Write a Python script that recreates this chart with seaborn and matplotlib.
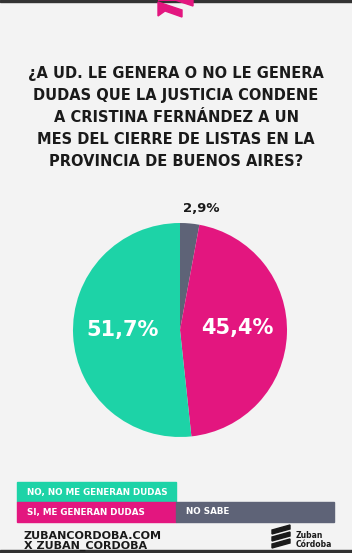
import matplotlib
matplotlib.use("Agg")
import matplotlib.pyplot as plt
import seaborn as sns
from matplotlib.patches import Rectangle, Polygon

sns.set_theme(style="white")
plt.rcParams['font.family'] = ['DejaVu Sans']

categories = ["NO SABE", "SI, ME GENERAN DUDAS", "NO, NO ME GENERAN DUDAS"]
values = [2.9, 45.4, 51.7]
labels = ["2,9%", "45,4%", "51,7%"]
colors = ["#5e6377", "#e3167f", "#1dd3a7"]

W, H = 352, 553
fig = plt.figure(figsize=(W / 100, H / 100), dpi=100)
fig.patch.set_facecolor("#f3f3f3")

def fx(x):
    return x / W

def fy(y):
    return 1 - y / H

# top and bottom dark lines
fig.add_artist(Rectangle((0, fy(2)), 1, 2 / H, transform=fig.transFigure, color="#333333"))
fig.add_artist(Rectangle((0, 0), 1, 3 / H, transform=fig.transFigure, color="#333333"))
# top pink logo shape
fig.add_artist(Polygon([(fx(158), fy(0)), (fx(193), fy(0)), (fx(193), fy(6)), (fx(175), fy(0))],
                       transform=fig.transFigure, color="#e3167f"))
fig.add_artist(Polygon([(fx(158), fy(2)), (fx(182), fy(10)), (fx(182), fy(17)), (fx(165), fy(11)), (fx(158), fy(16))],
                       transform=fig.transFigure, color="#e3167f"))

title = ("¿A UD. LE GENERA O NO LE GENERA\nDUDAS QUE LA JUSTICIA CONDENE\n"
         "A CRISTINA FERNÁNDEZ A UN\nMES DEL CIERRE DE LISTAS EN LA\nPROVINCIA DE BUENOS AIRES?")
fig.text(fx(176), fy(66), title, ha="center", va="top", fontsize=10.5, fontweight="bold",
         color="#1a1a1a", linespacing=1.58)

ax = fig.add_axes([fx(73), fy(437), 214 / W, 214 / H])
wedges, _ = ax.pie(values, colors=colors, startangle=90, counterclock=False,
                   wedgeprops=dict(linewidth=0))
ax.set_xlim(-1, 1)
ax.set_ylim(-1, 1)
ax.set_aspect("equal")
ax.axis("off")

fig.text(fx(123), fy(330), labels[2], ha="center", va="center", fontsize=15, fontweight="bold", color="white")
fig.text(fx(237), fy(328), labels[1], ha="center", va="center", fontsize=15, fontweight="bold", color="white")
fig.text(fx(201), fy(209), labels[0], ha="center", va="center", fontsize=9.5, fontweight="bold", color="#1a1a1a")

# legend boxes
def box(x0, y0, x1, y1, c, txt):
    fig.add_artist(Rectangle((fx(x0), fy(y1)), (x1 - x0) / W, (y1 - y0) / H,
                             transform=fig.transFigure, color=c))
    fig.text(fx(x0 + 10), fy((y0 + y1) / 2), txt, ha="left", va="center",
             fontsize=6.3, fontweight="bold", color="white")

box(17, 482, 176, 502, colors[2], categories[2])
box(17, 502, 176, 522, colors[1], categories[1])
box(176, 502, 334, 522, colors[0], categories[0])

fig.text(fx(24), fy(536), "ZUBANCORDOBA.COM", ha="left", va="center", fontsize=8.0,
         fontweight="bold", color="#1a1a1a")
fig.text(fx(24), fy(546), "X ZUBAN_CORDOBA", ha="left", va="center", fontsize=8.0,
         fontweight="bold", color="#1a1a1a")
fig.text(fx(296), fy(540), "Zuban\nCórdoba", ha="left", va="center", fontsize=5.5,
         fontweight="bold", color="#1a1a1a", linespacing=1.0)
for i in range(3):
    fig.add_artist(Polygon([(fx(272), fy(530 + i * 7)), (fx(290), fy(525 + i * 7)),
                            (fx(290), fy(529 + i * 7)), (fx(272), fy(534 + i * 7))],
                           transform=fig.transFigure, color="#1a1a1a"))

fig.savefig("out.png", dpi=100, facecolor=fig.get_facecolor())
